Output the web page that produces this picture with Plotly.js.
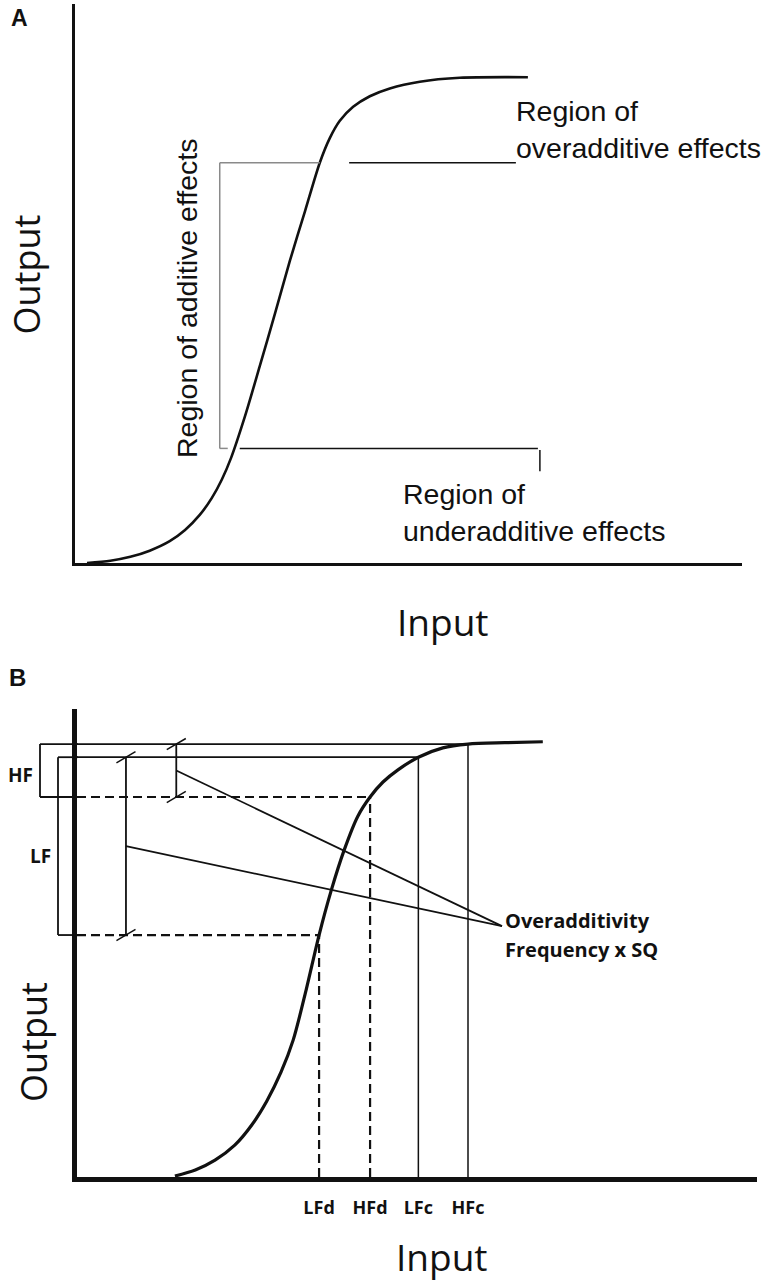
<!DOCTYPE html>
<html><head><meta charset="utf-8">
<script src="https://cdn.plot.ly/plotly-3.0.1.min.js"></script>
<style>html,body{margin:0;padding:0;background:#fff}#chart{width:762px;height:1285px}</style>
</head><body><div id="chart"></div>
<script>
// ---------- Panel A : sigmoid input/output curve (arbitrary units 0-100) ----------
const curveA_input  = [1.8, 5.3, 8.3, 11.2, 14.2, 16.5, 18.7, 20.5, 22.0, 23.4, 25.5, 27.7, 30.0, 32.2, 34.5, 36.7, 38.2, 39.7, 41.7, 44.2, 47.2, 51.7, 57.7, 67.9];
const curveA_output = [0.0, 0.4, 1.1, 2.2, 3.9, 5.9, 8.6, 11.6, 14.9, 18.8, 26.3, 35.2, 44.7, 54.0, 63.0, 71.6, 76.0, 79.1, 81.6, 83.5, 84.9, 86.1, 86.8, 86.9];
// output levels bounding the region of additive effects: [lower, upper]
const additiveBounds = [20.5, 71.6];
const regionLabelsA = ['Region of additive effects', 'Region of<br>overadditive effects', 'Region of<br>underadditive effects'];

// ---------- Panel B : dose points on the curve ----------
const curveB_input  = [14.4, 17.4, 20.3, 23.2, 25.7, 27.9, 30.0, 31.8, 33.7, 35.6, 37.4, 39.3, 41.3, 43.1, 45.0, 47.2, 50.2, 53.8, 57.5, 62.9, 68.5];
const curveB_output = [0.2, 1.5, 3.6, 6.8, 11.1, 16.2, 22.4, 29.3, 40.0, 51.7, 61.3, 69.9, 77.1, 81.2, 84.4, 87.0, 89.7, 91.7, 92.5, 92.8, 93.0];
const doseLabels  = ['LFd', 'HFd', 'LFc', 'HFc'];
const doseInputs  = [35.6, 43.1, 50.2, 57.5];
const doseOutputs = [51.7, 81.2, 89.7, 92.5];
const freqLabels  = ['HF', 'LF'];

const W = 762, H = 1285;
const px = v => v / W, py = v => 1 - v / H;
const INK = '#111';

function seg(xref, yref, x0, y0, x1, y1, w, color, dash) {
  return {type: 'line', xref: xref, yref: yref, x0: x0, y0: y0, x1: x1, y1: y1, layer: 'above',
          line: {color: color || INK, width: w || 1.5, dash: dash || 'solid'}};
}

const shapes = [];
// --- Panel A pointer lines ---
const aLo = additiveBounds[0], aHi = additiveBounds[1];
const GRAY = '#8a8a8a';
shapes.push(seg('x', 'y', 21.7, aLo, 21.7, aHi, 1.5, GRAY));      // bracket vertical
shapes.push(seg('x', 'y', 21.7, aHi, 36.7, aHi, 1.5, GRAY));      // bracket top to curve
shapes.push(seg('x', 'y', 21.7, aLo, 22.9, aLo, 1.5, GRAY));      // bracket bottom stub
shapes.push(seg('x', 'y', 41.1, aHi, 66.1, aHi, 1.5, INK));       // overadditive pointer
shapes.push(seg('x', 'y', 24.7, aLo, 69.4, aLo, 1.5, INK));       // underadditive pointer
shapes.push(seg('x', 'y', 69.7, aLo - 0.3, 69.7, aLo - 4.1, 1.5, INK));

// --- Panel B ---
const [LFd, HFd, LFc, HFc] = doseInputs;
const [yLFd, yHFd, yLFc, yHFc] = doseOutputs;
const DASH = '9px,5px';
// dashed drop lines for the "d" doses
shapes.push(seg('x2', 'y2', 0, yLFd, LFd, yLFd, 2.2, INK, DASH));
shapes.push(seg('x2', 'y2', LFd, 0, LFd, yLFd, 2.2, INK, DASH));
shapes.push(seg('x2', 'y2', 0, yHFd, HFd, yHFd, 2.2, INK, DASH));
shapes.push(seg('x2', 'y2', HFd, 0, HFd, yHFd, 2.2, INK, DASH));
// solid lines for the "c" doses
shapes.push(seg('x2', 'y2', 0, yLFc, LFc, yLFc, 1.8));
shapes.push(seg('x2', 'y2', LFc, 0, LFc, yLFc, 1.5));
shapes.push(seg('x2', 'y2', 0, yHFc, HFc, yHFc, 1.8));
shapes.push(seg('x2', 'y2', HFc, 0, HFc, yHFc, 1.5));
// HF / LF brackets left of the axis
shapes.push(seg('paper', 'y2', px(40), yHFd, px(40), yHFc, 1.8));
shapes.push(seg('paper', 'y2', px(40), yHFc, px(78), yHFc, 1.8));
shapes.push(seg('paper', 'y2', px(40), yHFd, px(78), yHFd, 1.8));
shapes.push(seg('paper', 'y2', px(58), yLFd, px(58), yLFc, 1.8));
shapes.push(seg('paper', 'y2', px(58), yLFc, px(78), yLFc, 1.8));
shapes.push(seg('paper', 'y2', px(58), yLFd, px(78), yLFd, 1.8));
// overadditivity spans with slash ticks
const spanX = [14.6, 7.2];              // HF span, LF span (input positions of the markers)
const spans = [[yHFd, yHFc], [yLFd, yLFc]];
const target = [62.5, 53.6];
spans.forEach((s, i) => {
  const x = spanX[i];
  shapes.push(seg('x2', 'y2', x, s[0], x, s[1], 1.8));
  [s[0], s[1]].forEach(yy => shapes.push(seg('x2', 'y2', x - 1.4, yy - 1.2, x + 1.4, yy + 1.2, 1.5)));
  shapes.push(seg('x2', 'y2', x, (s[0] + s[1]) / 2, target[0], target[1], 1.8));
});

const traces = [
  {x: curveA_input, y: curveA_output, xaxis: 'x', yaxis: 'y', mode: 'lines',
   line: {color: INK, width: 2.6, shape: 'spline', smoothing: 0.8}, hoverinfo: 'skip'},
  {x: curveB_input, y: curveB_output, xaxis: 'x2', yaxis: 'y2', mode: 'lines',
   line: {color: INK, width: 3.2, shape: 'spline', smoothing: 0.8}, hoverinfo: 'skip'}
];

const axBase = {showgrid: false, zeroline: false, showline: true, linecolor: INK, ticks: '', fixedrange: true};
const SANS = 'Liberation Sans, Arial, sans-serif';
const OPEN = 'Open Sans, sans-serif';

function ann(text, x, y, opts) {
  return Object.assign({text: text, xref: 'paper', yref: 'paper', x: px(x), y: py(y), showarrow: false,
    xanchor: 'center', yanchor: 'middle', font: {family: OPEN, size: 17, color: INK}}, opts || {});
}

const annotations = [
  ann('A', 19, 18, {font: {family: SANS, size: 23, color: INK, weight: 'bold'}}),
  ann('B', 17, 677, {font: {family: SANS, size: 24, color: INK, weight: 'bold'}}),
  ann(regionLabelsA[0], 187, 298, {textangle: -90, font: {family: SANS, size: 28.5, color: INK}}),
  ann(regionLabelsA[1], 514, 130, {xanchor: 'left', align: 'left', font: {family: SANS, size: 28.5, color: INK}}),
  ann(regionLabelsA[2], 401, 512, {xanchor: 'left', align: 'left', font: {family: SANS, size: 28.5, color: INK}}),
  ann('Input', 443, 621, {font: {family: OPEN, size: 37, color: INK}}),
  ann('Output', 25.5, 275, {textangle: -90, font: {family: OPEN, size: 36, color: INK}}),
  ann('Input', 442, 1256, {font: {family: OPEN, size: 37, color: INK}}),
  ann('Output', 33, 1042, {textangle: -90, font: {family: OPEN, size: 36, color: INK}}),
  ann(freqLabels[0], 20, 775, {font: {family: OPEN, size: 19, color: INK, weight: 'bold'}}),
  ann(freqLabels[1], 40, 856, {font: {family: OPEN, size: 19, color: INK, weight: 'bold'}}),
  ann('Overadditivity', 503, 920, {xanchor: 'left', font: {family: OPEN, size: 20, color: INK, weight: 'bold'}}),
  ann('Frequency x SQ', 503, 949, {xanchor: 'left', font: {family: OPEN, size: 20, color: INK, weight: 'bold'}})
];

const layout = {
  width: W, height: H, margin: {l: 0, r: 0, t: 0, b: 0},
  paper_bgcolor: '#fff', plot_bgcolor: 'rgba(0,0,0,0)', showlegend: false,
  xaxis: Object.assign({}, axBase, {domain: [px(75), px(742)], range: [0, 100], anchor: 'y', linewidth: 3, showticklabels: false}),
  yaxis: Object.assign({}, axBase, {domain: [py(563), py(4)], range: [0, 100], anchor: 'x', linewidth: 3, showticklabels: false}),
  xaxis2: Object.assign({}, axBase, {domain: [px(77), px(757)], range: [0, 100], anchor: 'y2', linewidth: 5,
    tickmode: 'array', tickvals: doseInputs, ticktext: doseLabels, ticklabelstandoff: 10,
    tickfont: {family: OPEN, size: 18, color: INK, weight: 'bold'}}),
  yaxis2: Object.assign({}, axBase, {domain: [py(1177), py(709)], range: [0, 100], anchor: 'x2', linewidth: 5, showticklabels: false}),
  shapes: shapes,
  annotations: annotations
};

Plotly.newPlot('chart', traces, layout, {displayModeBar: false, staticPlot: true});
</script></body></html>
